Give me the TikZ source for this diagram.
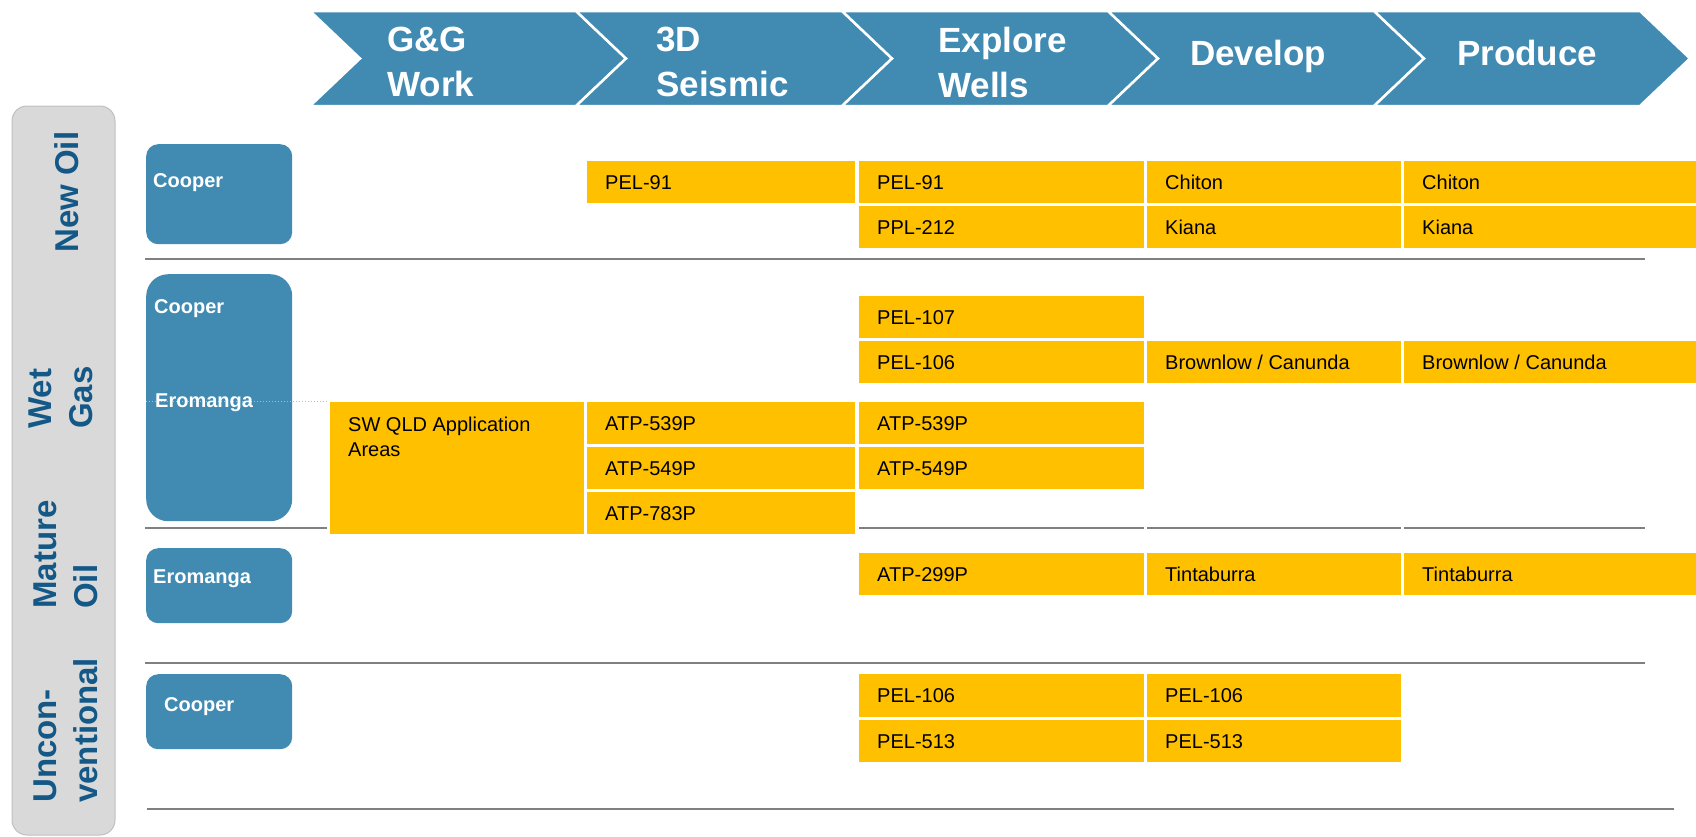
\documentclass[tikz,border=0pt]{standalone}
\usepackage{fontspec}
\setmainfont{Liberation Sans}
\definecolor{chev}{RGB}{65,139,179}
\definecolor{sidetxt}{RGB}{20,88,135}
\definecolor{sidebar}{RGB}{217,217,217}
\definecolor{sideedge}{RGB}{192,192,192}
\definecolor{ygold}{RGB}{255,192,0}
\definecolor{sepline}{RGB}{128,128,128}
\definecolor{dotc}{RGB}{185,185,185}
\tikzset{
  chevron/.style={fill=chev, draw=white, line width=2.5pt, line join=miter},
  chevtext/.style={text=white, font=\bfseries\fontsize{35}{45}\selectfont, align=left, inner sep=0pt},
  sidelab/.style={text=sidetxt, font=\bfseries\fontsize{33}{41}\selectfont, rotate=90, anchor=north west, align=left, inner sep=0pt},
  bluebox/.style={fill=chev, draw=none, anchor=north west, inner sep=0pt},
  bluetext/.style={text=white, font=\bfseries\fontsize{20}{24}\selectfont, anchor=base west, inner sep=0pt},
  cell/.style={fill=ygold, draw=none, anchor=north west, inner sep=0pt},
  celltext/.style={text=black, font=\fontsize{20}{25}\selectfont, anchor=base west, inner sep=0pt},
  sep/.style={draw=sepline, line width=2.5pt},
  dotsep/.style={draw=dotc, line width=1pt, dotted}
}
\newcommand\ycell[6]{%
  \node[cell, minimum width=#4pt-#2pt, minimum height=#5pt-#3pt] (#1) at (#2,#3) {};
  \node[celltext] (#1t) at ([xshift=18pt,yshift=-7.2pt]#1.west) {#6};}
\begin{document}
\begin{tikzpicture}[x=1pt,y=-1pt]
\useasboundingbox (0,0) rectangle (1696,836);
% chevrons
\foreach \i in {0,...,4}{
  \pgfmathsetmacro\xa{310+266*\i}
  \draw[chevron] (\xa,11) -- ({\xa+266},11) -- ({\xa+316},58.5) -- ({\xa+266},106) -- (\xa,106) -- ({\xa+50},58.5) -- cycle;
}
\node[chevtext, anchor=north west] (hgg) at (387,27) {G\&G\\Work};
\node[chevtext, anchor=north west] (hseis) at (656,27) {3D\\Seismic};
\node[chevtext, anchor=north west] (hexp) at (938,27) {Explore\\Wells};
\node[chevtext, anchor=base west] (hdev) at (1190,65) {Develop};
\node[chevtext, anchor=base west] (hprod) at (1457,65) {Produce};
% side bar
\draw[fill=sidebar, draw=sideedge, line width=1pt, rounded corners=15pt] (12,106) rectangle (115,835);
\node[sidelab] (lnew) at (54.4,253) {New Oil};
\node[sidelab] (lwet) at (28.4,429) {Wet\\Gas};
\node[sidelab] (lmat) at (33.4,609) {Mature\\Oil};
\node[sidelab] (lunc) at (33.4,803) {Uncon-\\ventional};
% separator lines
\draw[sep] (145,259) -- (1645,259);
\draw[sep] (145,528) -- (327,528);
\draw[sep] (859,528) -- (1144,528);
\draw[sep] (1147,528) -- (1401,528);
\draw[sep] (1404,528) -- (1645,528);
\draw[sep] (145,663) -- (1645,663);
\draw[sep] (147,809) -- (1674,809);
% blue boxes
\node[bluebox, rounded corners=12pt, minimum width=146pt, minimum height=100pt] (b1) at (146,144) {};
\node[bluebox, rounded corners=22pt, minimum width=146pt, minimum height=247pt] (b2) at (146,274) {};
\node[bluebox, rounded corners=12pt, minimum width=146pt, minimum height=75pt] (b3) at (146,548) {};
\node[bluebox, rounded corners=12pt, minimum width=146pt, minimum height=75pt] (b4) at (146,674) {};
\draw[dotsep] (146,401) -- (327,401);
\node[bluetext] (b1t) at (153,187) {Cooper};
\node[bluetext] (b2t) at (154,313) {Cooper};
\node[bluetext] (b2u) at (155,407) {Eromanga};
\node[bluetext] (b3t) at (153,583) {Eromanga};
\node[bluetext] (b4t) at (164,711) {Cooper};
% yellow cells: New Oil
\ycell{s1}{587}{161}{855}{203}{PEL-91}
\ycell{e1}{859}{161}{1144}{203}{PEL-91}
\ycell{d1}{1147}{161}{1401}{203}{Chiton}
\ycell{p1}{1404}{161}{1696}{203}{Chiton}
\ycell{e2}{859}{206}{1144}{248}{PPL-212}
\ycell{d2}{1147}{206}{1401}{248}{Kiana}
\ycell{p2}{1404}{206}{1696}{248}{Kiana}
% Wet Gas
\ycell{e3}{859}{296}{1144}{338}{PEL-107}
\ycell{e4}{859}{341}{1144}{383}{PEL-106}
\ycell{d4}{1147}{341}{1401}{383}{Brownlow / Canunda}
\ycell{p4}{1404}{341}{1696}{383}{Brownlow / Canunda}
\ycell{s5}{587}{402}{855}{444}{ATP-539P}
\ycell{e5}{859}{402}{1144}{444}{ATP-539P}
\ycell{s6}{587}{447}{855}{489}{ATP-549P}
\ycell{e6}{859}{447}{1144}{489}{ATP-549P}
\ycell{s7}{587}{492}{855}{534}{ATP-783P}
\node[cell, minimum width=254pt, minimum height=132pt] (sw) at (330,402) {};
\node[celltext, anchor=north west, align=left] (swt) at (348,417) {SW QLD Application\\Areas};
% Mature Oil
\ycell{e8}{859}{553}{1144}{595}{ATP-299P}
\ycell{d8}{1147}{553}{1401}{595}{Tintaburra}
\ycell{p8}{1404}{553}{1696}{595}{Tintaburra}
% Unconventional
\ycell{e9}{859}{674}{1144}{717}{PEL-106}
\ycell{d9}{1147}{674}{1401}{717}{PEL-106}
\ycell{e10}{859}{720}{1144}{762}{PEL-513}
\ycell{d10}{1147}{720}{1401}{762}{PEL-513}
\end{tikzpicture}
\end{document}
